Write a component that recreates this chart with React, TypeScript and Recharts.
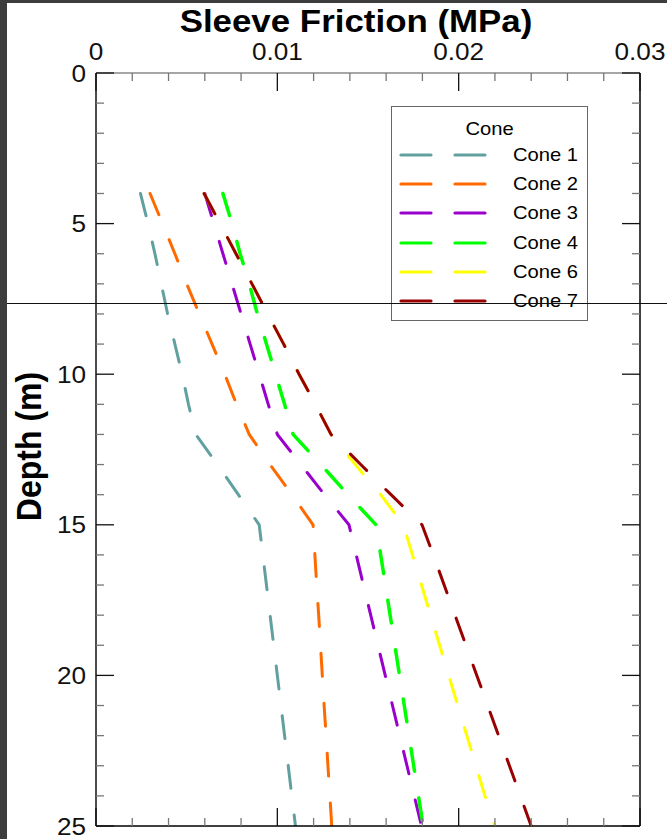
import React from 'react';
import { LineChart, Line, XAxis, YAxis, Legend } from 'recharts';

const depths = [4, 5, 6, 7, 8, 9, 10, 11, 12, 13, 14, 15, 16, 17, 18, 19, 20, 21, 22, 23, 24, 25];
const cone1 = [0.00245, 0.00287, 0.00325, 0.0036, 0.00395, 0.00435, 0.00475, 0.0051, 0.0055, 0.0067, 0.00785, 0.009, 0.0092, 0.0094, 0.0096, 0.0098, 0.01, 0.0102, 0.0104, 0.0106, 0.0108, 0.011];
const cone2 = [0.00298, 0.00367, 0.00435, 0.005, 0.0057, 0.0064, 0.0071, 0.00775, 0.00845, 0.0096, 0.0108, 0.01197, 0.01207, 0.01217, 0.01228, 0.01238, 0.01248, 0.01258, 0.01269, 0.01279, 0.0129, 0.013];
const cone3 = [0.006, 0.0065, 0.007, 0.0075, 0.008, 0.0085, 0.009, 0.0095, 0.01, 0.0113, 0.0126, 0.01395, 0.01435, 0.01475, 0.01515, 0.01555, 0.01595, 0.01635, 0.01675, 0.01715, 0.01755, 0.01795];
const cone4 = [0.007, 0.0075, 0.00795, 0.00845, 0.0089, 0.0094, 0.0099, 0.0104, 0.01087, 0.0124, 0.0139, 0.01544, 0.0157, 0.01596, 0.01622, 0.01648, 0.01674, 0.017, 0.01726, 0.01752, 0.01778, 0.01804];
const cone6 = [0.00596, 0.00684, 0.00772, 0.0086, 0.00947, 0.01035, 0.0112, 0.0121, 0.01296, 0.0143, 0.0157, 0.01695, 0.01745, 0.01795, 0.01845, 0.01895, 0.01945, 0.01995, 0.02045, 0.02095, 0.02145, 0.022];
const cone7 = [0.00596, 0.00684, 0.00772, 0.0086, 0.00947, 0.01035, 0.0112, 0.0121, 0.01296, 0.0146, 0.01627, 0.01798, 0.0186, 0.0192, 0.0198, 0.0204, 0.021, 0.0216, 0.0222, 0.0228, 0.0234, 0.024];

const seriesKeys = ['c1', 'c2', 'c3', 'c4', 'c6', 'c7'];
const seriesNames = ['Cone 1', 'Cone 2', 'Cone 3', 'Cone 4', 'Cone 6', 'Cone 7'];
const seriesColors = ['#62a0a0', '#ff6a00', '#9900cc', '#00ff00', '#ffff00', '#990000'];
const seriesWidths = [3, 3, 3, 3.5, 3, 3];
const seriesValues = [cone1, cone2, cone3, cone4, cone6, cone7];

const xTicks = [0, 0.002, 0.004, 0.006, 0.008, 0.01, 0.012, 0.014, 0.016, 0.018, 0.02, 0.022, 0.024, 0.026, 0.028, 0.03];
const yTicks = [0, 1, 2, 3, 4, 5, 6, 7, 8, 9, 10, 11, 12, 13, 14, 15, 16, 17, 18, 19, 20, 21, 22, 23, 24, 25];
const xTitle = 'Sleeve Friction (MPa)';
const yTitle = 'Depth (m)';
const legendTitle = 'Cone';

const data = depths.map((d, i) => {
  const row: any = { depth: d };
  seriesKeys.forEach((k, j) => {
    row[k] = seriesValues[j][i];
  });
  return row;
});

const SX = 1.09;
const FONT = '"Liberation Sans", Arial, Helvetica, sans-serif';
const MAJ = 18;
const MIN = 8;

const isMajorX = (v: number) => Math.abs(v * 100 - Math.round(v * 100)) < 1e-6;
const isMajorY = (v: number) => Math.abs(v % 5) < 1e-6;
const fmtX = (v: number) => (v === 0 ? '0' : v.toFixed(2));

const TopTick = (props: any) => {
  const { x, y, payload } = props;
  const v = payload.value;
  const major = isMajorX(v);
  return (
    <g>
      <line x1={x} x2={x} y1={y} y2={y + (major ? MAJ : MIN)} stroke={major ? '#111' : '#777'} strokeWidth={1.3} />
      {major && (
        <text transform={`translate(${x},${y - 13}) scale(${SX},1)`} textAnchor="middle" fontSize={24} fontFamily={FONT} fill="#111">
          {fmtX(v)}
        </text>
      )}
    </g>
  );
};

const BottomTick = (props: any) => {
  const { x, y, payload } = props;
  const major = isMajorX(payload.value);
  return <line x1={x} x2={x} y1={y} y2={y - (major ? MAJ : MIN)} stroke={major ? '#111' : '#777'} strokeWidth={1.3} />;
};

const LeftTick = (props: any) => {
  const { x, y, payload } = props;
  const v = payload.value;
  const major = isMajorY(v);
  return (
    <g>
      <line x1={x} x2={x + (major ? MAJ : MIN)} y1={y} y2={y} stroke={major ? '#111' : '#777'} strokeWidth={1.3} />
      {major && (
        <text transform={`translate(${x - 10},${y + 8.5}) scale(${SX},1)`} textAnchor="end" fontSize={24} fontFamily={FONT} fill="#111">
          {String(v)}
        </text>
      )}
    </g>
  );
};

const RightTick = (props: any) => {
  const { x, y, payload } = props;
  const major = isMajorY(payload.value);
  return <line x1={x} x2={x - (major ? MAJ : MIN)} y1={y} y2={y} stroke={major ? '#111' : '#777'} strokeWidth={1.3} />;
};

const XTitle = (props: any) => {
  const vb = props.viewBox || { x: 96, y: 72, width: 544, height: 1 };
  const cx = vb.x + vb.width / 2 - 12;
  const top = vb.y + vb.height;
  return (
    <text transform={`translate(${cx},${top - 41}) scale(${SX},1)`} textAnchor="middle" fontSize={32} fontWeight="bold" fontFamily={FONT} fill="#000">
      {xTitle}
    </text>
  );
};

const YTitle = (props: any) => {
  const vb = props.viewBox || { x: 95, y: 73, width: 1, height: 753 };
  const cy = vb.y + vb.height / 2 - 3;
  const left = vb.x + vb.width;
  return (
    <text transform={`translate(${left - 55},${cy}) scale(${SX},1) rotate(-90)`} textAnchor="middle" fontSize={32} fontWeight="bold" fontFamily={FONT} fill="#000">
      {yTitle}
    </text>
  );
};

const LegendBox = (props: any) => {
  const payload = props.payload || [];
  return (
    <div
      style={{
        width: 197,
        height: 215,
        border: '1.5px solid #666',
        background: '#fff',
        boxSizing: 'border-box',
        position: 'relative',
        fontFamily: FONT,
        color: '#000',
      }}
    >
      <div style={{ position: 'absolute', top: 11, left: 0, width: '100%', textAlign: 'center', fontSize: 18.5, lineHeight: '22px', transform: `scaleX(${SX})` }}>
        {legendTitle}
      </div>
      {payload.map((p: any, i: number) => (
        <div key={i} style={{ position: 'absolute', left: 0, top: 37 + i * 29.2, height: 22, width: '100%' }}>
          <svg width={100} height={22} style={{ position: 'absolute', left: 0, top: 0 }}>
            <line x1={9} x2={39} y1={11} y2={11} stroke={p.color} strokeWidth={3.2} strokeLinecap="round" />
            <line x1={63} x2={93} y1={11} y2={11} stroke={p.color} strokeWidth={3.2} strokeLinecap="round" />
          </svg>
          <div style={{ position: 'absolute', left: 121, top: 0, fontSize: 18.5, lineHeight: '22px', transform: `scaleX(${SX})`, transformOrigin: 'left center', whiteSpace: 'nowrap' }}>
            {p.value}
          </div>
        </div>
      ))}
    </div>
  );
};

export default function App() {
  return (
    <div style={{ position: 'absolute', left: 0, top: 0, width: 667, height: 839, background: '#3d3d3d', overflow: 'hidden' }}>
      <div style={{ position: 'absolute', left: 7, top: 3, width: 660, height: 836, background: '#fff' }} />
      <div style={{ position: 'absolute', left: 0, top: 0 }}>
        <LineChart width={667} height={839} data={data} layout="vertical" margin={{ top: 72, right: 26, bottom: 12, left: 95 }}>
          <XAxis
            xAxisId={0}
            type="number"
            orientation="top"
            domain={[0, 0.03]}
            ticks={xTicks}
            interval={0}
            height={1}
            tickSize={0}
            tickMargin={0}
            allowDataOverflow
            axisLine={{ stroke: '#888', strokeWidth: 1.3 }}
            tickLine={false}
            tick={(p: any) => <TopTick {...p} />}
            label={(p: any) => <XTitle {...p} />}
          />
          <XAxis
            xAxisId="b"
            type="number"
            orientation="bottom"
            domain={[0, 0.03]}
            ticks={xTicks}
            interval={0}
            height={1}
            tickSize={0}
            tickMargin={0}
            allowDataOverflow
            axisLine={{ stroke: '#000', strokeWidth: 1.5 }}
            tickLine={false}
            tick={(p: any) => <BottomTick {...p} />}
          />
          <YAxis
            yAxisId={0}
            type="number"
            dataKey="depth"
            orientation="left"
            domain={[0, 25]}
            ticks={yTicks}
            interval={0}
            width={1}
            tickSize={0}
            tickMargin={0}
            allowDataOverflow
            axisLine={{ stroke: '#111', strokeWidth: 1.5 }}
            tickLine={false}
            tick={(p: any) => <LeftTick {...p} />}
            label={(p: any) => <YTitle {...p} />}
          />
          <YAxis
            yAxisId="r"
            type="number"
            dataKey="depth"
            orientation="right"
            domain={[0, 25]}
            ticks={yTicks}
            interval={0}
            width={1}
            tickSize={0}
            tickMargin={0}
            allowDataOverflow
            axisLine={{ stroke: '#000', strokeWidth: 1.5 }}
            tickLine={false}
            tick={(p: any) => <RightTick {...p} />}
          />
          {seriesKeys.map((k, i) => (
            <Line
              key={k}
              xAxisId={0}
              yAxisId={0}
              type="linear"
              dataKey={k}
              name={seriesNames[i]}
              stroke={seriesColors[i]}
              strokeWidth={seriesWidths[i]}
              strokeDasharray="23 27"
              strokeLinecap="round"
              dot={false}
              activeDot={false}
              isAnimationActive={false}
            />
          ))}
          <Legend
            layout="vertical"
            align="center"
            verticalAlign="middle"
            wrapperStyle={{ position: 'absolute', left: 391, top: 106, width: 197, height: 215 }}
            content={(p: any) => <LegendBox {...p} />}
          />
        </LineChart>
      </div>
      <div style={{ position: 'absolute', left: 7, top: 303, width: 660, height: 1, background: '#111' }} />
    </div>
  );
}
